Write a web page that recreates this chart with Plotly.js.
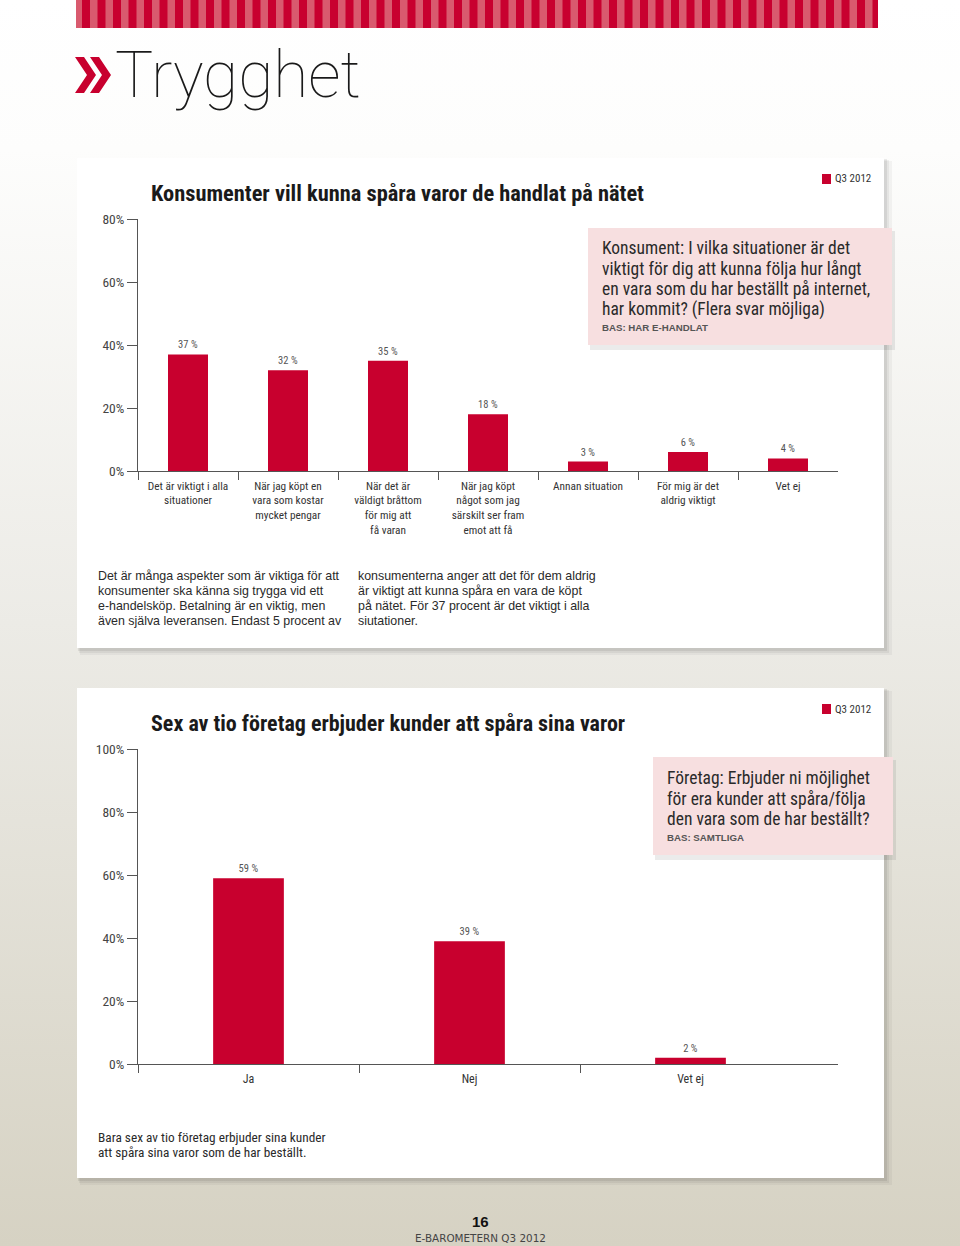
<!DOCTYPE html>
<html><head><meta charset="utf-8">
<script src="https://cdn.plot.ly/plotly-3.0.1.min.js"></script>
<style>
html,body{margin:0;padding:0;width:960px;height:1246px;overflow:hidden;
background:linear-gradient(to bottom,#ffffff 0%,#fdfdfc 12%,#ecebe6 50%,#d6d2c3 100%);}
#chart{width:960px;height:1246px;}
</style></head><body><div id="chart"></div>
<script>
// ---------- DATA ----------
const categories1 = ["Det är viktigt i alla<br>situationer", "När jag köpt en<br>vara som kostar<br>mycket pengar", "När det är<br>väldigt bråttom<br>för mig att<br>få varan", "När jag köpt<br>något som jag<br>särskilt ser fram<br>emot att få", "Annan situation", "För mig är det<br>aldrig viktigt", "Vet ej"];
const values1 = [37, 32, 35, 18, 3, 6, 4];
const yTicks1 = [0, 20, 40, 60, 80];
const yTickLabels1 = ["0%", "20%", "40%", "60%", "80%"];

const categories2 = ["Ja", "Nej", "Vet ej"];
const values2 = [59, 39, 2];
const yTicks2 = [0, 20, 40, 60, 80, 100];
const yTickLabels2 = ["0%", "20%", "40%", "60%", "80%", "100%"];

const pageTitle = "Trygghet";
const title1 = "Konsumenter vill kunna spåra varor de handlat på nätet";
const title2 = "Sex av tio företag erbjuder kunder att spåra sina varor";
const periodLabel = "Q3 2012";
const question1 = ["Konsument: I vilka situationer är det", "viktigt för dig att kunna följa hur långt", "en vara som du har beställt på internet,", "har kommit? (Flera svar möjliga)"];
const base1 = "BAS: HAR E-HANDLAT";
const question2 = ["Företag: Erbjuder ni möjlighet", "för era kunder att spåra/följa", "den vara som de har beställt?"];
const base2 = "BAS: SAMTLIGA";
const body1a = ["Det är många aspekter som är viktiga för att", "konsumenter ska känna sig trygga vid ett", "e-handelsköp. Betalning är en viktig, men", "även själva leveransen. Endast 5 procent av"];
const body1b = ["konsumenterna anger att det för dem aldrig", "är viktigt att kunna spåra en vara de köpt", "på nätet. För 37 procent är det viktigt i alla", "siutationer."];
const body2 = ["Bara sex av tio företag erbjuder sina kunder", "att spåra sina varor som de har beställt."];
const pageNumber = "16";
const footer = "E-BAROMETERN Q3 2012";

// ---------- HELPERS ----------
const W = 960, H = 1246;
const px = v => v / W;
const py = v => 1 - v / H;
const NARROW = "'Liberation Sans Narrow', 'Roboto Condensed', 'Arial Narrow', sans-serif";
const SANS = "'Liberation Sans', Arial, sans-serif";
const RED = "#c8002e";

function ann(text, x, y, size, family, color, extra) {
  return Object.assign({
    text: text, x: px(x), y: py(y), xref: "paper", yref: "paper",
    xanchor: "left", yanchor: "middle", showarrow: false, align: "left",
    font: {family: family, size: size, color: color}
  }, extra || {});
}
function rect(x0, y0, x1, y1, fill, layer) {
  return {type: "rect", xref: "paper", yref: "paper", x0: px(x0), x1: px(x1), y0: py(y0), y1: py(y1),
    line: {width: 0}, fillcolor: fill, layer: layer || "below"};
}
function pathPx(pts, fill) {
  const d = pts.map((p, i) => (i ? "L" : "M") + px(p[0]) + "," + py(p[1])).join(" ") + " Z";
  return {type: "path", xref: "paper", yref: "paper", path: d, fillcolor: fill, line: {width: 0}, layer: "above"};
}

const shapes = [];
// stripe band
shapes.push(rect(76, 0, 878, 28, "#d95a6e"));
for (let x = 82; x < 878; x += 15.5) shapes.push(rect(x, 0, Math.min(x + 8, 878), 28, "#c8002f"));
// chevrons
[75, 90].forEach(x0 => shapes.push(pathPx([[x0, 57], [x0 + 9, 57], [x0 + 21, 75], [x0 + 9, 93], [x0, 93], [x0 + 12, 75]], RED)));

// cards with soft shadows
function card(x0, y0, x1, y1) {
  shapes.push(rect(x0 + 3, y0 + 3, x1 + 8, y1 + 7, "rgba(0,0,0,0.04)"));
  shapes.push(rect(x0 + 2, y0 + 2, x1 + 5, y1 + 5, "rgba(0,0,0,0.05)"));
  shapes.push(rect(x0 + 1, y0 + 1, x1 + 3, y1 + 3, "rgba(0,0,0,0.07)"));
  shapes.push(rect(x0, y0, x1, y1, "#ffffff"));
}
card(77, 158, 884, 648);
card(77, 688, 884, 1178);
// pink question boxes
shapes.push(rect(590, 231, 895, 350, "rgba(0,0,0,0.08)"));
shapes.push(rect(588, 228, 892, 345, "#f7dfe0"));
shapes.push(rect(655, 760, 896, 860, "rgba(0,0,0,0.08)"));
shapes.push(rect(653, 757, 893, 855, "#f7dfe0"));
// legend squares
shapes.push(rect(822, 174, 831, 184, RED, "above"));
shapes.push(rect(822, 704, 831, 714, RED, "above"));

const annotations = [];
annotations.push(ann(pageTitle, 113, 75, 64, "Roboto", "#1a1a1a", {font: {family: "Roboto", size: 64, color: "#1a1a1a", weight: 100}}));
annotations.push(ann(title1, 149, 193, 22.4, NARROW, "#1a1a1a", {font: {family: NARROW, size: 22.4, color: "#1a1a1a", weight: 700}}));
annotations.push(ann(title2, 149, 723, 22, NARROW, "#1a1a1a", {font: {family: NARROW, size: 22, color: "#1a1a1a", weight: 700}}));
annotations.push(ann(periodLabel, 833, 179, 11, NARROW, "#333"));
annotations.push(ann(periodLabel, 833, 709, 11, NARROW, "#333"));
question1.forEach((t, i) => annotations.push(ann(t, 600, 248 + i * 20.5, 17.5, NARROW, "#2a2a2a")));
annotations.push(ann(base1, 600, 327, 9.7, SANS, "#555", {font: {family: SANS, size: 9.7, color: "#555", weight: 700}}));
question2.forEach((t, i) => annotations.push(ann(t, 665, 778 + i * 20.5, 17.5, NARROW, "#2a2a2a")));
annotations.push(ann(base2, 665, 837, 9.7, SANS, "#555", {font: {family: SANS, size: 9.7, color: "#555", weight: 700}}));
body1a.forEach((t, i) => annotations.push(ann(t, 96, 576 + i * 15, 12.4, SANS, "#2a2a2a")));
body1b.forEach((t, i) => annotations.push(ann(t, 356, 576 + i * 15, 12.4, SANS, "#2a2a2a")));
body2.forEach((t, i) => annotations.push(ann(t, 96, 1137 + i * 15, 13.3, NARROW, "#2a2a2a")));
annotations.push(ann(pageNumber, 480, 1221, 15, SANS, "#111", {xanchor: "center", font: {family: SANS, size: 15, color: "#111", weight: 700}}));
annotations.push(ann(footer, 480, 1238, 10.4, "'DejaVu Sans', sans-serif", "#444", {xanchor: "center"}));

// ---------- TRACES ----------
const idx1 = categories1.map((_, i) => i);
const idx2 = categories2.map((_, i) => i);
const barText = v => v + " %";

const traces = [
  {type: "bar", x: idx1, y: values1, xaxis: "x", yaxis: "y", width: 0.4,
   marker: {color: RED}, text: values1.map(barText), textposition: "outside", cliponaxis: false,
   textfont: {family: NARROW, size: 10.5, color: "#555"}, hoverinfo: "skip"},
  {type: "bar", x: idx2, y: values2, xaxis: "x2", yaxis: "y2", width: 0.32,
   marker: {color: RED}, text: values2.map(barText), textposition: "outside", cliponaxis: false,
   textfont: {family: NARROW, size: 10.5, color: "#555"}, hoverinfo: "skip"}
];

const axisLine = {showline: true, linecolor: "#555", linewidth: 1, showgrid: false, zeroline: false, fixedrange: true};

const layout = {
  width: W, height: H, margin: {l: 0, r: 0, t: 0, b: 0},
  paper_bgcolor: "rgba(0,0,0,0)", plot_bgcolor: "rgba(0,0,0,0)",
  showlegend: false,
  xaxis: Object.assign({}, axisLine, {
    domain: [px(138), px(838)], range: [-0.5, categories1.length - 0.5], anchor: "y",
    tickmode: "array", tickvals: idx1, ticktext: categories1, ticks: "", ticklabelstandoff: 4,
    tickfont: {family: NARROW, size: 11.3, color: "#333"},
    minor: {tickmode: "array", tickvals: idx1.map(i => i - 0.5), ticks: "outside", ticklen: 8, tickcolor: "#555", tickwidth: 1}
  }),
  yaxis: Object.assign({}, axisLine, {
    domain: [py(471), py(219)], range: [0, 80], anchor: "x",
    tickmode: "array", tickvals: yTicks1, ticktext: yTickLabels1, ticks: "outside", ticklen: 10, tickcolor: "#555",
    tickfont: {family: NARROW, size: 13.5, color: "#444"}
  }),
  xaxis2: Object.assign({}, axisLine, {
    domain: [px(138), px(838)], range: [-0.5, -0.5 + 700 / 221], anchor: "y2",
    tickmode: "array", tickvals: idx2, ticktext: categories2, ticks: "", ticklabelstandoff: 4,
    tickfont: {family: NARROW, size: 12, color: "#333"},
    minor: {tickmode: "array", tickvals: idx2.map(i => i - 0.5), ticks: "outside", ticklen: 8, tickcolor: "#555", tickwidth: 1}
  }),
  yaxis2: Object.assign({}, axisLine, {
    domain: [py(1064), py(749)], range: [0, 100], anchor: "x2",
    tickmode: "array", tickvals: yTicks2, ticktext: yTickLabels2, ticks: "outside", ticklen: 10, tickcolor: "#555",
    tickfont: {family: NARROW, size: 13.5, color: "#444"}
  }),
  shapes: shapes,
  annotations: annotations
};

Plotly.newPlot("chart", traces, layout, {staticPlot: true, displayModeBar: false});
</script>
</body></html>
